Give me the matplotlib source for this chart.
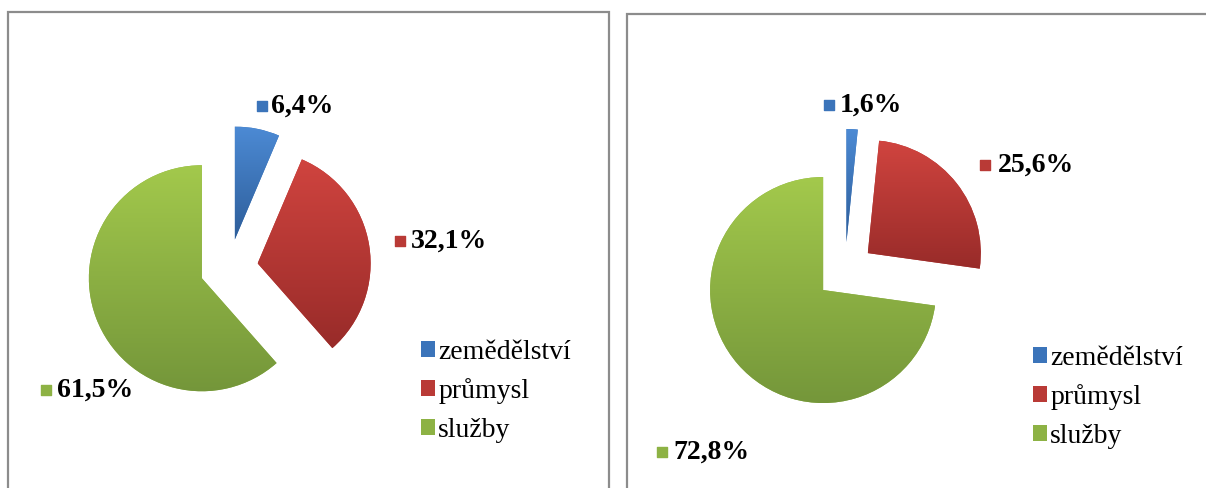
"""
Two exploded pie charts: employment by sector (zemědělství / průmysl / služby).
"""

import numpy as np
import matplotlib.pyplot as plt
from matplotlib.colors import LinearSegmentedColormap
from matplotlib.patches import Rectangle

plt.rcParams['font.family'] = ['Liberation Serif', 'DejaVu Serif']

sectors = ['zemědělství', 'průmysl', 'služby']
shares_left = [6.4, 32.1, 61.5]
shares_right = [1.6, 25.6, 72.8]
labels_left = ['6,4%', '32,1%', '61,5%']
labels_right = ['1,6%', '25,6%', '72,8%']

top_colors = ['#4c8ad4', '#d0443f', '#a3c94c']
bottom_colors = ['#2d5d99', '#982b29', '#74963a']
mid_colors = ['#3b74ba', '#b93a36', '#8db244']

W, H = 1206, 488
R = 113          # pie radius in pixels
EXPLODE = 29     # explode distance in pixels

fig = plt.figure(figsize=(W / 100, H / 100), dpi=100)


def panel(x0, x1, shares, labels, center, label_pos, legend_pos, box):
    ax = fig.add_axes([x0 / W, 0, (x1 - x0) / W, 1])
    wedges, _ = ax.pie(shares, colors=mid_colors, startangle=90,
                       counterclock=False, radius=R,
                       explode=[EXPLODE] * len(shares),
                       center=(center[0], H - center[1]))

    # vertical gradient inside each slice
    grad = np.linspace(1, 0, 256).reshape(-1, 1)
    for w, c0, c1 in zip(wedges, top_colors, bottom_colors):
        v = w.get_path().vertices
        cmap = LinearSegmentedColormap.from_list('g', [c1, c0])
        im = ax.imshow(grad, cmap=cmap, aspect='auto', zorder=w.get_zorder() + 0.1,
                       extent=(v[:, 0].min(), v[:, 0].max(), v[:, 1].min(), v[:, 1].max()))
        im.set_clip_path(w)

    # data labels with a small colour key
    for (mx, tx, ty), txt, c in zip(label_pos, labels, mid_colors):
        ax.scatter([mx], [H - ty], marker='s', s=60, color=c, zorder=5)
        ax.text(tx, H - ty, txt, fontsize=20, fontweight='bold',
                ha='left', va='center', zorder=5)

    ax.legend(wedges, sectors, loc='upper left',
              bbox_to_anchor=(legend_pos[0], H - legend_pos[1]),
              bbox_transform=ax.transData, frameon=False, fontsize=20,
              handlelength=0.5, handleheight=0.5, handletextpad=0.12,
              labelspacing=0.48, borderpad=0, borderaxespad=0)

    ax.add_patch(Rectangle((box[0], -20), box[1] - box[0], H - box[2] + 20,
                           fill=False, edgecolor='#8c8c8c', linewidth=1.6,
                           clip_on=False))
    ax.set_xlim(x0, x1)
    ax.set_ylim(0, H)
    ax.set_aspect('auto')
    ax.axis('off')


panel(0, 618, shares_left, labels_left, (229, 268),
      [(262, 271, 106), (400, 411, 241), (46, 57, 390)],
      (421, 340), (8, 609, 12))
panel(618, W, shares_right, labels_right, (845, 271),
      [(829, 840, 105), (985, 998, 165), (662, 673, 452)],
      (1033, 346), (627, 1260, 14))

plt.savefig('out.png', dpi=100)
